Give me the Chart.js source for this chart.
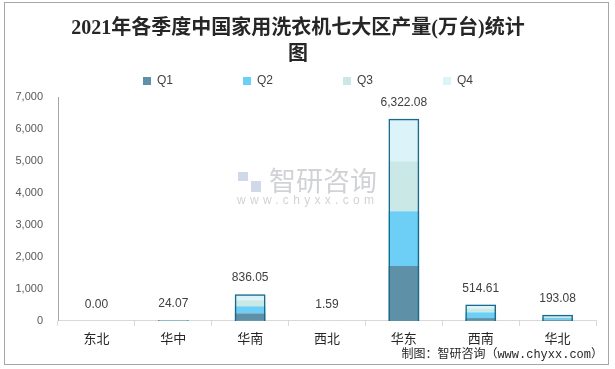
<!DOCTYPE html>
<html>
<head>
<meta charset="utf-8">
<script src="https://cdn.jsdelivr.net/npm/chart.js@4/dist/chart.umd.min.js"></script>
<style>
  html, body { margin: 0; padding: 0; background: #fff; }
  #wrap { width: 615px; height: 369px; position: relative; }
</style>
</head>
<body>
<div id="wrap"><canvas id="chart"></canvas></div>
<script>
// categories and quarterly values (万台)
const categories = ['东北', '华中', '华南', '西北', '华东', '西南', '华北'];
const q1 = [0, 6, 236, 0.4, 1717, 88, 35];
const q2 = [0, 6, 221, 0.4, 1711, 180, 58];
const q3 = [0, 6, 189, 0.4, 1566, 116, 52];
const q4 = [0, 6.07, 190.05, 0.39, 1328.08, 130.61, 48.08];
const totals = [0.00, 24.07, 836.05, 1.59, 6322.08, 514.61, 193.08];
const seriesNames = ['Q1', 'Q2', 'Q3', 'Q4'];
const yTicks = [0, 1000, 2000, 3000, 4000, 5000, 6000, 7000];

const colors = ['#5e90a8', '#6dcff6', '#c9e8e6', '#ddf3fa'];
const outline = '#1b6a8c';
const titleText = ['2021年各季度中国家用洗衣机七大区产量(万台)统计', '图'];
const sourceText = '制图：智研咨询（www.chyxx.com）';

const fmt = v => v.toLocaleString('en-US', { minimumFractionDigits: 2, maximumFractionDigits: 2 });

// frame, watermark, totals and source line
const decorations = {
    id: 'decorations',
    afterLayout(chart) {
        // legend sits centred on the whole picture, not on the padded area
        chart.legend.left += 10;
        chart.legend.right += 10;
    },
    beforeDraw(chart) {
        const ctx = chart.ctx;
        ctx.save();
        ctx.strokeStyle = '#a6a6a6';
        ctx.lineWidth = 1;
        ctx.strokeRect(4.5, 2.5, 604, 362);
        // watermark
        ctx.fillStyle = 'rgba(150,155,165,0.45)';
        ctx.font = '27px "Noto Sans CJK SC"';
        ctx.textAlign = 'left';
        ctx.textBaseline = 'middle';
        ctx.fillText('智研咨询', 269, 181);
        ctx.fillStyle = 'rgba(140,160,200,0.4)';
        ctx.fillRect(238, 172, 10, 9);
        ctx.fillRect(251, 181, 10, 11);
        ctx.fillStyle = 'rgba(150,155,165,0.45)';
        ctx.font = '12px "Liberation Sans"';
        if ('letterSpacing' in ctx) ctx.letterSpacing = '4.3px';
        ctx.fillText('www.chyxx.com', 237, 201);
        ctx.restore();
    },
    afterDatasetsDraw(chart) {
        const ctx = chart.ctx;
        const meta = chart.getDatasetMeta(0);
        ctx.save();
        ctx.fillStyle = '#404040';
        ctx.font = '12px "Liberation Sans"';
        ctx.textAlign = 'center';
        ctx.textBaseline = 'middle';
        meta.data.forEach((bar, i) => {
            ctx.fillText(fmt(totals[i]), bar.x, bar.y - 16);
        });
        ctx.fillStyle = '#262626';
        ctx.font = '12px "Liberation Mono", "Noto Sans CJK SC"';
        ctx.textAlign = 'right';
        ctx.fillText(sourceText, 603, 355);
        ctx.restore();
    }
};

const datasets = [{
    label: 'total',
    data: totals,
    stack: 'total',
    order: 0,
    backgroundColor: 'rgba(0,0,0,0)',
    borderColor: outline,
    borderWidth: 1.5
}];
seriesNames.forEach((name, i) => {
    datasets.push({
        label: name,
        data: [q1, q2, q3, q4][i],
        stack: 'q',
        order: 1,
        backgroundColor: colors[i],
        borderWidth: 0
    });
});

new Chart(document.getElementById('chart'), {
    type: 'bar',
    data: { labels: categories, datasets: datasets },
    plugins: [decorations],
    options: {
        responsive: true,
        maintainAspectRatio: false,
        animation: false,
        layout: { padding: { left: 0, right: 19, top: 0, bottom: 19.5 } },
        datasets: {
            bar: { grouped: false, barPercentage: 0.4, categoryPercentage: 1 }
        },
        plugins: {
            title: {
                display: true,
                text: titleText,
                color: '#262626',
                font: { family: '"Liberation Serif", "Noto Sans CJK SC"', size: 20, weight: 'bold', lineHeight: '26px' },
                padding: { top: 16, bottom: -63 }
            },
            legend: {
                display: true,
                labels: {
                    boxWidth: 8,
                    boxHeight: 8,
                    padding: 70,
                    color: '#404040',
                    font: { family: '"Liberation Sans"', size: 12 },
                    filter: item => item.text !== 'total'
                }
            },
            tooltip: { enabled: false }
        },
        scales: {
            x: {
                stacked: true,
                grid: { display: true, drawOnChartArea: false, offset: true, tickLength: 5, color: '#d9d9d9' },
                border: { display: true, color: '#d9d9d9' },
                ticks: { color: '#262626', padding: 4, font: { family: '"Noto Sans CJK SC"', size: 13 } }
            },
            y: {
                stacked: true,
                min: 0,
                max: 7000,
                afterFit: axis => { axis.width = 58; },
                afterBuildTicks: axis => { axis.ticks = yTicks.map(v => ({ value: v })); },
                grid: { display: false, drawTicks: false },
                border: { display: true, color: '#a6a6a6' },
                ticks: {
                    color: '#595959',
                    padding: 15,
                    font: { family: '"Liberation Sans"', size: 11 },
                    callback: v => v.toLocaleString('en-US')
                }
            }
        }
    }
});
</script>
</body>
</html>
